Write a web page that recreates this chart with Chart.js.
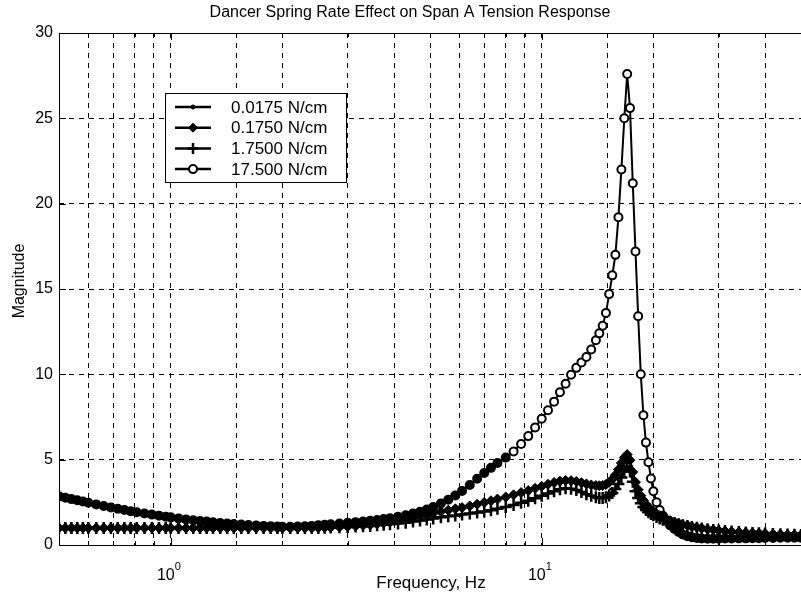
<!DOCTYPE html>
<html>
<head>
<meta charset="utf-8">
<script src="https://cdn.jsdelivr.net/npm/chart.js@4.4.0/dist/chart.umd.min.js"></script>
<style>
  body { margin: 0; background: #fff; }
  canvas { display: block; }
</style>
</head>
<body>
<canvas id="mychart" width="801" height="598"></canvas>
<script>
const ctx = document.getElementById("mychart").getContext("2d");

// frequency, Hz
const freq = [0.5,0.52,0.54,0.56,0.58,0.6,0.63,0.66,0.69,0.72,
  0.75,0.78,0.81,0.85,0.89,0.93,0.97,1.0,1.05,1.1,
  1.15,1.2,1.25,1.3,1.36,1.42,1.48,1.55,1.62,1.7,
  1.78,1.86,1.94,2.0,2.1,2.2,2.3,2.4,2.5,2.6,
  2.7,2.85,3.0,3.15,3.3,3.45,3.6,3.75,3.9,4.1,
  4.3,4.5,4.7,4.9,5.1,5.35,5.6,5.85,6.1,6.4,
  6.7,7.0,7.3,7.6,8.0,8.4,8.8,9.2,9.6,10.0,
  10.4,10.8,11.2,11.6,12.0,12.4,12.8,13.2,13.6,14.0,
  14.3,14.6,14.9,15.2,15.5,15.8,16.1,16.4,16.7,17.0,
  17.3,17.6,17.9,18.2,18.5,18.8,19.1,19.4,19.7,20.0,
  20.4,20.8,21.2,21.7,22.2,22.8,23.4,24.0,24.7,25.4,
  26.2,27.0,28.0,29.0,30.0,31.2,32.5,34.0,35.5,37.0,
  38.5,40.0,42.0,44.0,46.0,48.0,50.0];

const k00175 = [1.0,1.0,1.0,1.0,1.0,1.0,1.0,1.0,1.0,1.0,
  1.0,1.0,1.0,1.0,1.0,1.0,1.0,1.0,1.0,1.0,
  1.0,1.0,1.0,1.0,1.0,1.0,1.0,1.0,1.0,1.0,
  1.0,1.0,1.0,1.0,1.0,1.0,1.0,1.0,1.01,1.02,
  1.03,1.06,1.09,1.12,1.16,1.2,1.25,1.3,1.35,1.43,
  1.51,1.6,1.69,1.78,1.87,1.97,2.05,2.13,2.2,2.3,
  2.4,2.5,2.6,2.7,2.82,2.95,3.08,3.2,3.33,3.45,
  3.57,3.67,3.75,3.79,3.78,3.73,3.66,3.59,3.53,3.49,
  3.48,3.5,3.56,3.68,3.86,4.12,4.45,4.82,5.15,5.35,
  5.0,4.3,3.7,3.25,2.9,2.62,2.4,2.22,2.08,1.96,
  1.84,1.73,1.63,1.53,1.44,1.36,1.28,1.21,1.15,1.09,
  1.04,0.99,0.94,0.9,0.86,0.83,0.8,0.77,0.74,0.72,
  0.7,0.68,0.66,0.64,0.62,0.61,0.6];

const k0175 = [1.0,1.0,1.0,1.0,1.0,1.0,1.0,1.0,1.0,1.0,
  1.0,1.0,1.0,1.0,1.0,1.0,1.0,1.0,1.0,1.0,
  1.0,1.0,1.0,1.0,1.0,1.0,1.0,1.0,1.0,1.0,
  1.0,1.0,1.0,1.0,1.0,1.0,1.0,1.0,1.01,1.02,
  1.03,1.05,1.08,1.11,1.15,1.19,1.24,1.29,1.34,1.42,
  1.5,1.59,1.68,1.77,1.86,1.96,2.04,2.12,2.19,2.29,
  2.39,2.49,2.59,2.69,2.81,2.94,3.07,3.19,3.32,3.44,
  3.56,3.66,3.74,3.78,3.77,3.72,3.65,3.58,3.52,3.48,
  3.47,3.49,3.55,3.67,3.85,4.1,4.43,4.8,5.12,5.3,
  4.97,4.28,3.68,3.24,2.89,2.61,2.39,2.21,2.07,1.95,
  1.83,1.72,1.62,1.52,1.43,1.35,1.27,1.2,1.14,1.08,
  1.03,0.98,0.93,0.89,0.85,0.82,0.79,0.76,0.73,0.71,
  0.69,0.67,0.65,0.63,0.61,0.6,0.59];

const k175 = [1.0,1.0,1.0,1.0,1.0,1.0,1.0,1.0,1.0,1.0,
  1.0,1.0,1.0,1.0,1.0,1.0,1.0,1.0,1.0,1.0,
  1.0,1.0,1.0,1.0,1.0,1.0,1.0,1.0,1.0,1.0,
  1.0,1.0,1.0,1.0,1.0,1.0,1.0,1.0,1.0,1.01,
  1.02,1.04,1.06,1.08,1.1,1.12,1.15,1.18,1.21,1.26,
  1.31,1.37,1.43,1.5,1.56,1.63,1.68,1.73,1.78,1.84,
  1.9,1.97,2.04,2.12,2.22,2.34,2.47,2.6,2.74,2.88,
  3.02,3.15,3.26,3.32,3.3,3.22,3.1,2.98,2.88,2.8,
  2.76,2.76,2.8,2.9,3.05,3.28,3.58,3.95,4.35,4.6,
  4.3,3.7,3.15,2.75,2.45,2.22,2.05,1.92,1.82,1.74,
  1.64,1.56,1.48,1.41,1.34,1.27,1.21,1.16,1.11,1.06,
  1.01,0.96,0.92,0.88,0.85,0.82,0.79,0.76,0.73,0.71,
  0.69,0.67,0.65,0.63,0.61,0.6,0.59];

const k175b = [2.85,2.77,2.69,2.62,2.55,2.48,2.38,2.29,2.2,2.12,
  2.05,1.98,1.92,1.85,1.78,1.72,1.66,1.62,1.56,1.5,
  1.45,1.41,1.37,1.33,1.29,1.26,1.23,1.2,1.17,1.14,
  1.12,1.1,1.08,1.07,1.07,1.08,1.1,1.12,1.15,1.18,
  1.21,1.26,1.3,1.34,1.38,1.42,1.47,1.52,1.57,1.65,
  1.74,1.84,1.95,2.08,2.23,2.43,2.65,2.9,3.17,3.52,
  3.88,4.22,4.52,4.8,5.12,5.48,5.92,6.38,6.88,7.4,
  7.9,8.4,8.95,9.45,9.98,10.38,10.7,11.02,11.45,12.0,
  12.4,12.85,13.6,14.7,15.8,17.0,19.2,22.0,25.0,27.6,
  25.6,21.2,17.2,13.4,10.0,7.6,6.0,4.85,3.9,3.15,
  2.5,2.05,1.72,1.4,1.15,0.94,0.76,0.62,0.52,0.45,
  0.41,0.38,0.37,0.37,0.37,0.38,0.38,0.39,0.39,0.4,
  0.4,0.41,0.41,0.42,0.42,0.43,0.43];

const labels = ["0.0175 N/cm", "0.1750 N/cm", "1.7500 N/cm", "17.500 N/cm"];
const xTickLabels = [1, 10];
const font = "'Liberation Sans', Arial, sans-serif";

const pts = (vals) => freq.map((f, i) => ({ x: f, y: vals[i] }));

// circles look solid where the samples pile up, open near the resonance
const circleFill = (c) => {
  const v = k175b, i = c.dataIndex;
  if (i === undefined) return "#fff";
  const prev = v[i - 1] ?? v[i], next = v[i + 1] ?? v[i];
  const d = Math.max(Math.abs(next - v[i]), Math.abs(v[i] - prev));
  return d > 0.42 || (freq[i] > 9 && freq[i] < 20) ? "#fff" : "#000";
};

const styles = [
  { pointStyle: "circle", pointRadius: 2, pointBackgroundColor: "#000", pointBorderWidth: 1, legendFill: "#000", legendRadius: 2 },
  { pointStyle: "rectRot", pointRadius: 5, pointBackgroundColor: "#000", pointBorderWidth: 1, legendFill: "#000", legendRadius: 4.5 },
  { pointStyle: "cross", pointRadius: 6, pointBackgroundColor: "#000", pointBorderWidth: 2.5, legendFill: "#000", legendRadius: 5.5 },
  { pointStyle: "circle", pointRadius: 4, pointBackgroundColor: circleFill, pointBorderWidth: 2, legendFill: "#fff", legendRadius: 4 },
];

const data = {
  datasets: [k00175, k0175, k175, k175b].map((vals, i) => ({
    label: labels[i],
    data: pts(vals),
    borderColor: "#000",
    borderWidth: 2,
    pointBorderColor: "#000",
    tension: 0,
    ...styles[i],
  })),
};

// MATLAB-style frame, ticks, labels and legend
const frame = {
  id: "frame",
  afterDraw(chart) {
    const { ctx, chartArea: a, scales: { x, y } } = chart;
    ctx.save();
    ctx.setLineDash([]);
    ctx.strokeStyle = "#000";
    ctx.lineWidth = 1;
    ctx.beginPath();
    x.ticks.forEach((t) => {
      const px = Math.round(x.getPixelForValue(t.value)) + 0.5;
      const len = xTickLabels.includes(t.value) ? 7 : 4;
      ctx.moveTo(px, a.bottom); ctx.lineTo(px, a.bottom - len);
      ctx.moveTo(px, a.top); ctx.lineTo(px, a.top + len);
    });
    y.ticks.forEach((t) => {
      const py = Math.round(y.getPixelForValue(t.value)) + 0.5;
      ctx.moveTo(a.left, py); ctx.lineTo(a.left + 7, py);
    });
    ctx.stroke();
    ctx.strokeRect(Math.round(a.left) + 0.5, Math.round(a.top) + 0.5, a.right - a.left, a.bottom - a.top);

    ctx.fillStyle = "#000";
    // x tick labels 10^n
    xTickLabels.forEach((v) => {
      const px = x.getPixelForValue(v);
      ctx.font = "16px " + font;
      ctx.textAlign = "right";
      ctx.textBaseline = "alphabetic";
      ctx.fillText("10", px + 4, a.bottom + 35);
      ctx.font = "11px " + font;
      ctx.textAlign = "left";
      ctx.fillText(String(Math.round(Math.log10(v))), px + 4, a.bottom + 25);
    });

    // titles
    ctx.textAlign = "center";
    ctx.textBaseline = "middle";
    ctx.font = "16px " + font;
    ctx.fillText("Dancer Spring Rate Effect on Span A Tension Response", 410, 13);
    ctx.font = "17px " + font;
    ctx.fillText("Frequency, Hz", 431, 583);
    ctx.save();
    ctx.translate(20, 281);
    ctx.rotate(-Math.PI / 2);
    ctx.font = "16px " + font;
    ctx.fillText("Magnitude", 0, 0);
    ctx.restore();

    // legend
    const bx = 165, by = 93, bw = 181, bh = 89;
    ctx.fillStyle = "#fff";
    ctx.fillRect(bx, by, bw, bh);
    ctx.strokeStyle = "#000";
    ctx.lineWidth = 1;
    ctx.strokeRect(bx + 0.5, by + 0.5, bw, bh);
    chart.data.datasets.forEach((ds, i) => {
      const ly = 107 + i * 20.7;
      ctx.strokeStyle = "#000";
      ctx.lineWidth = 2.5;
      ctx.beginPath();
      ctx.moveTo(175, ly); ctx.lineTo(211, ly);
      ctx.stroke();
      ctx.fillStyle = ds.legendFill;
      ctx.lineWidth = ds.pointBorderWidth;
      Chart.helpers.drawPoint(ctx, {
        pointStyle: ds.pointStyle, radius: ds.legendRadius, rotation: 0, borderWidth: ds.pointBorderWidth,
      }, 193, ly);
      ctx.fillStyle = "#000";
      ctx.font = "17px " + font;
      ctx.textAlign = "left";
      ctx.textBaseline = "middle";
      ctx.fillText(ds.label, 231, ly + 1);
    });
    ctx.restore();
  },
};

const config = {
  type: "line",
  data: data,
  options: {
    responsive: false,
    animation: false,
    layout: { autoPadding: false, padding: { top: 33, right: -5, left: 0, bottom: 0 } },
    plugins: { legend: { display: false }, tooltip: { enabled: false } },
    scales: {
      x: {
        type: "logarithmic",
        min: 0.5,
        max: 50,
        ticks: { display: false },
        grid: { color: "#000", lineWidth: 1, drawTicks: false },
        border: { display: false, dash: [5, 5] },
        afterFit: (s) => { s.height = 53; },
      },
      y: {
        min: 0,
        max: 30,
        ticks: { stepSize: 5, color: "#000", padding: 6, font: { size: 16, family: font } },
        grid: { color: "#000", lineWidth: 1, drawTicks: false },
        border: { display: false, dash: [5, 5] },
        afterFit: (s) => { s.width = 59; },
      },
    },
  },
  plugins: [frame],
};

const myChart = new Chart(ctx, config);
</script>
</body>
</html>
